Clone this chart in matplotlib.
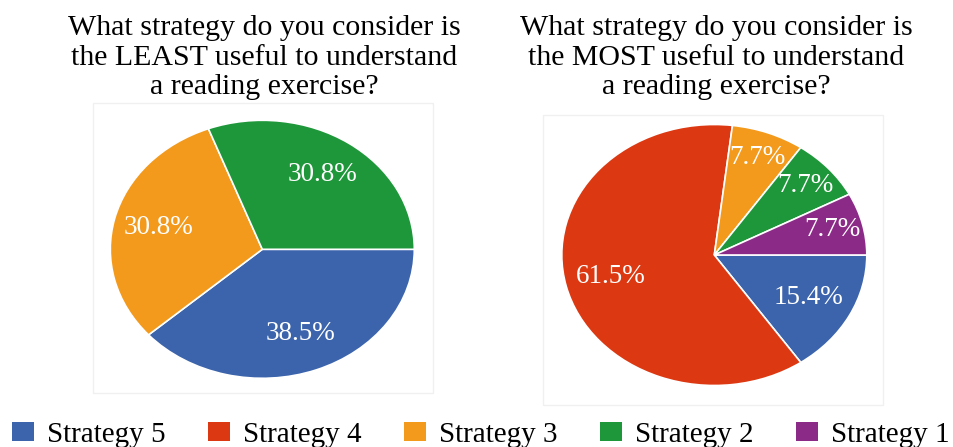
import matplotlib
matplotlib.use("Agg")
import matplotlib.pyplot as plt
import numpy as np
from matplotlib.patches import Patch, Rectangle

# Datos de la encuesta (porcentaje de respuestas por estrategia)
estrategias = ["Strategy 5", "Strategy 4", "Strategy 3", "Strategy 2", "Strategy 1"]
colores = ["#3b64ac", "#dc3912", "#f39a1c", "#1e973a", "#8c2a88"]
menos_util = [38.5, 0, 30.8, 30.8, 0]
mas_util = [15.4, 61.5, 7.7, 7.7, 7.7]
titulo_menos = "What strategy do you consider is\nthe LEAST useful to understand\na reading exercise?"
titulo_mas = "What strategy do you consider is\nthe MOST useful to understand\na reading exercise?"

plt.rcParams["font.family"] = ["Liberation Serif", "DejaVu Serif"]

W, H = 954, 447
fig = plt.figure(figsize=(W / 100, H / 100), dpi=100)


def px(x0, y0, x1, y1):
    """Convierte una caja en pixeles (origen arriba a la izquierda) a fracciones de la figura."""
    return [x0 / W, 1 - y1 / H, (x1 - x0) / W, (y1 - y0) / H]


def caja(x0, y0, x1, y1):
    """Marco gris muy claro alrededor del area de cada grafico."""
    fig.patches.append(Rectangle(px(x0, y0, x1, y1)[:2], (x1 - x0) / W, (y1 - y0) / H,
                                 transform=fig.transFigure, fill=False,
                                 edgecolor="#f0f0f0", lw=1))


def pastel(rect, valores, titulo, tx):
    ax = fig.add_axes(rect)
    # solo se dibujan las estrategias con respuestas
    idx = [i for i, v in enumerate(valores) if v > 0]
    vals = [valores[i] for i in idx]
    cols = [colores[i] for i in idx]
    cunas, _ = ax.pie(vals, colors=cols, startangle=0, counterclock=False, radius=1,
                      wedgeprops=dict(edgecolor="white", linewidth=1.2, clip_on=False))
    total = sum(vals)
    for c, v in zip(cunas, vals):
        ang = np.deg2rad((c.theta1 + c.theta2) / 2)
        r = 0.8 if v / total < 0.1 else 0.7
        ax.text(r * np.cos(ang), r * np.sin(ang), f"{v:.1f}%", color="white",
                fontsize=19.5, ha="center", va="center")
    ax.set_aspect("auto")
    ax.set_xlim(-1, 1)
    ax.set_ylim(-1, 1)
    ax.axis("off")
    fig.text(tx / W, 1 - 15 / H, titulo, ha="center", va="top", fontsize=21.5, linespacing=1.18)


caja(93, 103, 433, 393)
caja(543, 115, 883, 405)
pastel(px(110.3, 120.3, 414.3, 378.3), menos_util, titulo_menos, 264)
pastel(px(561.8, 124.5, 866.8, 385.5), mas_util, titulo_mas, 716)

# Leyenda comun en la parte inferior
manijas = [Patch(facecolor=c, edgecolor="none") for c in colores]
fig.legend(manijas, estrategias, loc="center", bbox_to_anchor=(481 / W, 1 - 435 / H),
           ncol=5, frameon=False, fontsize=21, handlelength=0.75, handleheight=0.65,
           handletextpad=0.45, columnspacing=1.45, borderpad=0, borderaxespad=0)

fig.savefig("out.png", dpi=100, facecolor="white")
